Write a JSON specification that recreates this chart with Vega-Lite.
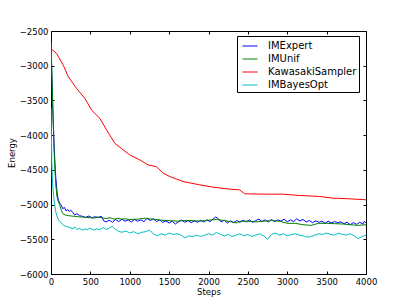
{
  "$schema": "https://vega.github.io/schema/vega-lite/v6.json",
  "width": 315,
  "height": 243,
  "autosize": "none",
  "padding": {"left": 51, "top": 31, "right": 41, "bottom": 31},
  "datasets": {
    "runs": [
      {"series":"IMExpert","step":0,"energy":-2700},{"series":"IMExpert","step":10,"energy":-3100},{"series":"IMExpert","step":20,"energy":-3500},{"series":"IMExpert","step":30,"energy":-3850},{"series":"IMExpert","step":40,"energy":-4150},{"series":"IMExpert","step":50,"energy":-4400},{"series":"IMExpert","step":60,"energy":-4600},{"series":"IMExpert","step":75,"energy":-4800},{"series":"IMExpert","step":90,"energy":-4920},{"series":"IMExpert","step":110,"energy":-4980},{"series":"IMExpert","step":130,"energy":-5010},{"series":"IMExpert","step":150,"energy":-5060},{"series":"IMExpert","step":170,"energy":-5040},{"series":"IMExpert","step":190,"energy":-5090},{"series":"IMExpert","step":210,"energy":-5070},{"series":"IMExpert","step":230,"energy":-5100},{"series":"IMExpert","step":250,"energy":-5080},{"series":"IMExpert","step":280,"energy":-5120},{"series":"IMExpert","step":300,"energy":-5150},{"series":"IMExpert","step":330,"energy":-5130},{"series":"IMExpert","step":360,"energy":-5160},
      {"series":"IMExpert","step":400,"energy":-5170},{"series":"IMExpert","step":440,"energy":-5185},{"series":"IMExpert","step":480,"energy":-5165},{"series":"IMExpert","step":520,"energy":-5190},{"series":"IMExpert","step":560,"energy":-5175},{"series":"IMExpert","step":600,"energy":-5185},{"series":"IMExpert","step":640,"energy":-5170},{"series":"IMExpert","step":670,"energy":-5235},{"series":"IMExpert","step":700,"energy":-5250},{"series":"IMExpert","step":740,"energy":-5225},{"series":"IMExpert","step":780,"energy":-5255},{"series":"IMExpert","step":820,"energy":-5215},{"series":"IMExpert","step":860,"energy":-5245},{"series":"IMExpert","step":900,"energy":-5210},{"series":"IMExpert","step":940,"energy":-5240},{"series":"IMExpert","step":980,"energy":-5220},{"series":"IMExpert","step":1020,"energy":-5250},{"series":"IMExpert","step":1060,"energy":-5215},{"series":"IMExpert","step":1100,"energy":-5240},{"series":"IMExpert","step":1140,"energy":-5220},{"series":"IMExpert","step":1180,"energy":-5245},{"series":"IMExpert","step":1220,"energy":-5200},{"series":"IMExpert","step":1260,"energy":-5230},{"series":"IMExpert","step":1300,"energy":-5205},{"series":"IMExpert","step":1340,"energy":-5245},{"series":"IMExpert","step":1380,"energy":-5220},{"series":"IMExpert","step":1420,"energy":-5255},{"series":"IMExpert","step":1460,"energy":-5235},{"series":"IMExpert","step":1500,"energy":-5265},{"series":"IMExpert","step":1540,"energy":-5240},{"series":"IMExpert","step":1580,"energy":-5280},{"series":"IMExpert","step":1620,"energy":-5245},{"series":"IMExpert","step":1660,"energy":-5225},{"series":"IMExpert","step":1700,"energy":-5255},{"series":"IMExpert","step":1740,"energy":-5230},{"series":"IMExpert","step":1780,"energy":-5260},{"series":"IMExpert","step":1820,"energy":-5235},{"series":"IMExpert","step":1860,"energy":-5255},{"series":"IMExpert","step":1900,"energy":-5225},{"series":"IMExpert","step":1940,"energy":-5250},{"series":"IMExpert","step":1980,"energy":-5220},{"series":"IMExpert","step":2020,"energy":-5245},{"series":"IMExpert","step":2060,"energy":-5205},{"series":"IMExpert","step":2090,"energy":-5180},{"series":"IMExpert","step":2120,"energy":-5200},{"series":"IMExpert","step":2160,"energy":-5250},{"series":"IMExpert","step":2200,"energy":-5225},{"series":"IMExpert","step":2240,"energy":-5265},{"series":"IMExpert","step":2280,"energy":-5235},{"series":"IMExpert","step":2320,"energy":-5260},{"series":"IMExpert","step":2360,"energy":-5230},{"series":"IMExpert","step":2400,"energy":-5255},{"series":"IMExpert","step":2440,"energy":-5225},{"series":"IMExpert","step":2480,"energy":-5250},{"series":"IMExpert","step":2520,"energy":-5220},{"series":"IMExpert","step":2560,"energy":-5255},{"series":"IMExpert","step":2600,"energy":-5230},{"series":"IMExpert","step":2640,"energy":-5210},{"series":"IMExpert","step":2680,"energy":-5245},{"series":"IMExpert","step":2720,"energy":-5220},{"series":"IMExpert","step":2760,"energy":-5250},{"series":"IMExpert","step":2800,"energy":-5215},{"series":"IMExpert","step":2840,"energy":-5245},{"series":"IMExpert","step":2880,"energy":-5220},{"series":"IMExpert","step":2920,"energy":-5240},{"series":"IMExpert","step":2960,"energy":-5210},{"series":"IMExpert","step":3000,"energy":-5250},{"series":"IMExpert","step":3040,"energy":-5220},{"series":"IMExpert","step":3080,"energy":-5245},{"series":"IMExpert","step":3120,"energy":-5205},{"series":"IMExpert","step":3160,"energy":-5235},{"series":"IMExpert","step":3200,"energy":-5215},{"series":"IMExpert","step":3240,"energy":-5250},{"series":"IMExpert","step":3280,"energy":-5230},{"series":"IMExpert","step":3320,"energy":-5260},{"series":"IMExpert","step":3360,"energy":-5235},{"series":"IMExpert","step":3400,"energy":-5255},{"series":"IMExpert","step":3440,"energy":-5240},{"series":"IMExpert","step":3480,"energy":-5270},{"series":"IMExpert","step":3520,"energy":-5240},{"series":"IMExpert","step":3560,"energy":-5265},{"series":"IMExpert","step":3600,"energy":-5245},{"series":"IMExpert","step":3640,"energy":-5260},{"series":"IMExpert","step":3680,"energy":-5250},{"series":"IMExpert","step":3720,"energy":-5275},{"series":"IMExpert","step":3760,"energy":-5255},{"series":"IMExpert","step":3800,"energy":-5290},{"series":"IMExpert","step":3840,"energy":-5260},{"series":"IMExpert","step":3880,"energy":-5285},{"series":"IMExpert","step":3920,"energy":-5255},{"series":"IMExpert","step":3960,"energy":-5280},{"series":"IMExpert","step":3980,"energy":-5240},{"series":"IMExpert","step":4000,"energy":-5265},

      {"series":"IMUnif","step":0,"energy":-2650},{"series":"IMUnif","step":10,"energy":-3050},{"series":"IMUnif","step":20,"energy":-3500},{"series":"IMUnif","step":30,"energy":-3900},{"series":"IMUnif","step":40,"energy":-4250},{"series":"IMUnif","step":50,"energy":-4500},{"series":"IMUnif","step":60,"energy":-4700},{"series":"IMUnif","step":75,"energy":-4880},{"series":"IMUnif","step":90,"energy":-4950},{"series":"IMUnif","step":110,"energy":-5000},{"series":"IMUnif","step":130,"energy":-5080},{"series":"IMUnif","step":150,"energy":-5130},{"series":"IMUnif","step":180,"energy":-5150},{"series":"IMUnif","step":220,"energy":-5160},{"series":"IMUnif","step":260,"energy":-5165},{"series":"IMUnif","step":300,"energy":-5170},{"series":"IMUnif","step":350,"energy":-5175},{"series":"IMUnif","step":400,"energy":-5180},{"series":"IMUnif","step":450,"energy":-5185},{"series":"IMUnif","step":500,"energy":-5190},{"series":"IMUnif","step":550,"energy":-5195},{"series":"IMUnif","step":600,"energy":-5180},{"series":"IMUnif","step":650,"energy":-5190},{"series":"IMUnif","step":700,"energy":-5200},{"series":"IMUnif","step":750,"energy":-5190},{"series":"IMUnif","step":800,"energy":-5210},{"series":"IMUnif","step":850,"energy":-5200},{"series":"IMUnif","step":900,"energy":-5210},{"series":"IMUnif","step":950,"energy":-5205},{"series":"IMUnif","step":1000,"energy":-5215},{"series":"IMUnif","step":1100,"energy":-5210},{"series":"IMUnif","step":1200,"energy":-5195},{"series":"IMUnif","step":1250,"energy":-5205},{"series":"IMUnif","step":1300,"energy":-5210},{"series":"IMUnif","step":1400,"energy":-5225},{"series":"IMUnif","step":1500,"energy":-5230},{"series":"IMUnif","step":1600,"energy":-5240},{"series":"IMUnif","step":1700,"energy":-5230},{"series":"IMUnif","step":1800,"energy":-5230},{"series":"IMUnif","step":1900,"energy":-5240},{"series":"IMUnif","step":2000,"energy":-5225},{"series":"IMUnif","step":2100,"energy":-5215},{"series":"IMUnif","step":2200,"energy":-5230},{"series":"IMUnif","step":2300,"energy":-5250},{"series":"IMUnif","step":2350,"energy":-5265},{"series":"IMUnif","step":2400,"energy":-5240},{"series":"IMUnif","step":2500,"energy":-5240},{"series":"IMUnif","step":2600,"energy":-5250},{"series":"IMUnif","step":2700,"energy":-5240},{"series":"IMUnif","step":2800,"energy":-5230},{"series":"IMUnif","step":2900,"energy":-5240},{"series":"IMUnif","step":3000,"energy":-5270},{"series":"IMUnif","step":3100,"energy":-5270},{"series":"IMUnif","step":3200,"energy":-5290},{"series":"IMUnif","step":3300,"energy":-5300},{"series":"IMUnif","step":3350,"energy":-5285},{"series":"IMUnif","step":3400,"energy":-5270},{"series":"IMUnif","step":3500,"energy":-5270},{"series":"IMUnif","step":3600,"energy":-5275},{"series":"IMUnif","step":3700,"energy":-5280},{"series":"IMUnif","step":3800,"energy":-5290},{"series":"IMUnif","step":3900,"energy":-5300},{"series":"IMUnif","step":4000,"energy":-5290},

      {"series":"KawasakiSampler","step":0,"energy":-2754},{"series":"KawasakiSampler","step":72,"energy":-2825},{"series":"KawasakiSampler","step":156,"energy":-2993},{"series":"KawasakiSampler","step":220,"energy":-3160},{"series":"KawasakiSampler","step":325,"energy":-3328},{"series":"KawasakiSampler","step":431,"energy":-3472},{"series":"KawasakiSampler","step":515,"energy":-3639},{"series":"KawasakiSampler","step":621,"energy":-3759},{"series":"KawasakiSampler","step":706,"energy":-3926},{"series":"KawasakiSampler","step":811,"energy":-4118},{"series":"KawasakiSampler","step":917,"energy":-4213},{"series":"KawasakiSampler","step":1001,"energy":-4285},{"series":"KawasakiSampler","step":1128,"energy":-4357},{"series":"KawasakiSampler","step":1234,"energy":-4429},{"series":"KawasakiSampler","step":1339,"energy":-4453},{"series":"KawasakiSampler","step":1424,"energy":-4548},{"series":"KawasakiSampler","step":1508,"energy":-4596},{"series":"KawasakiSampler","step":1677,"energy":-4668},{"series":"KawasakiSampler","step":1888,"energy":-4716},{"series":"KawasakiSampler","step":2057,"energy":-4749},{"series":"KawasakiSampler","step":2268,"energy":-4778},{"series":"KawasakiSampler","step":2395,"energy":-4788},{"series":"KawasakiSampler","step":2459,"energy":-4845},{"series":"KawasakiSampler","step":2733,"energy":-4850},{"series":"KawasakiSampler","step":2944,"energy":-4850},{"series":"KawasakiSampler","step":3155,"energy":-4869},{"series":"KawasakiSampler","step":3409,"energy":-4883},{"series":"KawasakiSampler","step":3578,"energy":-4907},{"series":"KawasakiSampler","step":3789,"energy":-4917},{"series":"KawasakiSampler","step":4000,"energy":-4931},

      {"series":"IMBayesOpt","step":0,"energy":-3600},{"series":"IMBayesOpt","step":10,"energy":-4400},{"series":"IMBayesOpt","step":20,"energy":-4700},{"series":"IMBayesOpt","step":40,"energy":-4950},{"series":"IMBayesOpt","step":60,"energy":-5100},{"series":"IMBayesOpt","step":80,"energy":-5180},{"series":"IMBayesOpt","step":100,"energy":-5230},{"series":"IMBayesOpt","step":130,"energy":-5260},{"series":"IMBayesOpt","step":160,"energy":-5300},{"series":"IMBayesOpt","step":200,"energy":-5320},{"series":"IMBayesOpt","step":240,"energy":-5330},{"series":"IMBayesOpt","step":280,"energy":-5350},{"series":"IMBayesOpt","step":300,"energy":-5320},{"series":"IMBayesOpt","step":330,"energy":-5360},{"series":"IMBayesOpt","step":360,"energy":-5340},{"series":"IMBayesOpt","step":400,"energy":-5370},{"series":"IMBayesOpt","step":430,"energy":-5350},{"series":"IMBayesOpt","step":460,"energy":-5360},{"series":"IMBayesOpt","step":500,"energy":-5340},{"series":"IMBayesOpt","step":540,"energy":-5370},{"series":"IMBayesOpt","step":580,"energy":-5350},{"series":"IMBayesOpt","step":620,"energy":-5360},{"series":"IMBayesOpt","step":660,"energy":-5330},{"series":"IMBayesOpt","step":700,"energy":-5360},{"series":"IMBayesOpt","step":740,"energy":-5340},{"series":"IMBayesOpt","step":780,"energy":-5310},{"series":"IMBayesOpt","step":810,"energy":-5350},{"series":"IMBayesOpt","step":850,"energy":-5380},{"series":"IMBayesOpt","step":900,"energy":-5400},{"series":"IMBayesOpt","step":950,"energy":-5380},{"series":"IMBayesOpt","step":1000,"energy":-5410},{"series":"IMBayesOpt","step":1050,"energy":-5390},{"series":"IMBayesOpt","step":1100,"energy":-5420},{"series":"IMBayesOpt","step":1150,"energy":-5400},{"series":"IMBayesOpt","step":1200,"energy":-5390},{"series":"IMBayesOpt","step":1250,"energy":-5370},{"series":"IMBayesOpt","step":1300,"energy":-5420},{"series":"IMBayesOpt","step":1350,"energy":-5450},{"series":"IMBayesOpt","step":1400,"energy":-5420},{"series":"IMBayesOpt","step":1450,"energy":-5440},{"series":"IMBayesOpt","step":1500,"energy":-5410},{"series":"IMBayesOpt","step":1550,"energy":-5430},{"series":"IMBayesOpt","step":1600,"energy":-5420},{"series":"IMBayesOpt","step":1650,"energy":-5440},{"series":"IMBayesOpt","step":1700,"energy":-5480},{"series":"IMBayesOpt","step":1750,"energy":-5450},{"series":"IMBayesOpt","step":1800,"energy":-5460},{"series":"IMBayesOpt","step":1850,"energy":-5440},{"series":"IMBayesOpt","step":1900,"energy":-5460},{"series":"IMBayesOpt","step":1950,"energy":-5440},{"series":"IMBayesOpt","step":2000,"energy":-5420},{"series":"IMBayesOpt","step":2050,"energy":-5440},{"series":"IMBayesOpt","step":2100,"energy":-5400},{"series":"IMBayesOpt","step":2150,"energy":-5430},{"series":"IMBayesOpt","step":2200,"energy":-5450},{"series":"IMBayesOpt","step":2250,"energy":-5430},{"series":"IMBayesOpt","step":2300,"energy":-5460},{"series":"IMBayesOpt","step":2350,"energy":-5440},{"series":"IMBayesOpt","step":2400,"energy":-5420},{"series":"IMBayesOpt","step":2450,"energy":-5450},{"series":"IMBayesOpt","step":2500,"energy":-5430},{"series":"IMBayesOpt","step":2550,"energy":-5460},{"series":"IMBayesOpt","step":2600,"energy":-5440},{"series":"IMBayesOpt","step":2650,"energy":-5420},{"series":"IMBayesOpt","step":2700,"energy":-5450},{"series":"IMBayesOpt","step":2750,"energy":-5500},{"series":"IMBayesOpt","step":2800,"energy":-5430},{"series":"IMBayesOpt","step":2850,"energy":-5410},{"series":"IMBayesOpt","step":2900,"energy":-5440},{"series":"IMBayesOpt","step":2950,"energy":-5420},{"series":"IMBayesOpt","step":3000,"energy":-5450},{"series":"IMBayesOpt","step":3050,"energy":-5430},{"series":"IMBayesOpt","step":3100,"energy":-5420},{"series":"IMBayesOpt","step":3150,"energy":-5440},{"series":"IMBayesOpt","step":3200,"energy":-5450},{"series":"IMBayesOpt","step":3250,"energy":-5470},{"series":"IMBayesOpt","step":3300,"energy":-5460},{"series":"IMBayesOpt","step":3350,"energy":-5440},{"series":"IMBayesOpt","step":3400,"energy":-5420},{"series":"IMBayesOpt","step":3450,"energy":-5430},{"series":"IMBayesOpt","step":3500,"energy":-5410},{"series":"IMBayesOpt","step":3550,"energy":-5430},{"series":"IMBayesOpt","step":3600,"energy":-5440},{"series":"IMBayesOpt","step":3650,"energy":-5410},{"series":"IMBayesOpt","step":3700,"energy":-5430},{"series":"IMBayesOpt","step":3750,"energy":-5440},{"series":"IMBayesOpt","step":3800,"energy":-5420},{"series":"IMBayesOpt","step":3850,"energy":-5450},{"series":"IMBayesOpt","step":3900,"energy":-5490},{"series":"IMBayesOpt","step":3950,"energy":-5460},{"series":"IMBayesOpt","step":4000,"energy":-5440}
    ]
  },
  "data": {"name": "runs"},
  "layer": [
    {
      "mark": {"type": "line", "strokeWidth": 1, "clip": true},
      "encoding": {
        "x": {"field": "step", "type": "quantitative", "scale": {"domain": [0, 4000], "nice": false, "zero": false},
              "axis": {"title": "Steps", "values": [0,500,1000,1500,2000,2500,3000,3500,4000], "format": "d", "titlePadding": 2, "labelFlush": false}},
        "y": {"field": "energy", "type": "quantitative", "scale": {"domain": [-6000, -2500], "nice": false, "zero": false},
              "axis": {"title": "Energy", "values": [-6000,-5500,-5000,-4500,-4000,-3500,-3000,-2500], "format": "d", "titlePadding": 3, "labelFlush": false,
                       "labelExpr": "replace(datum.label, '-', '−')"}},
        "color": {"field": "series", "type": "nominal",
                  "scale": {"domain": ["IMExpert","IMUnif","KawasakiSampler","IMBayesOpt"], "range": ["#0000ff","#008000","#ff0000","#00bfbf"]},
                  "legend": {"title": null, "orient": "none", "legendX": 186, "legendY": 5}}
      }
    },
    {
      "mark": {"type": "line", "strokeOpacity": 0},
      "encoding": {
        "x": {"field": "step", "type": "quantitative", "axis": {"orient": "top", "labels": false, "title": null, "values": [0,500,1000,1500,2000,2500,3000,3500,4000]}},
        "y": {"field": "energy", "type": "quantitative", "axis": {"orient": "right", "labels": false, "title": null, "values": [-6000,-5500,-5000,-4500,-4000,-3500,-3000,-2500]}}
      }
    }
  ],
  "resolve": {"axis": {"x": "independent", "y": "independent"}},
  "config": {
    "font": "DejaVu Sans",
    "view": {"stroke": "#000000", "strokeWidth": 1},
    "axis": {"grid": false, "domain": false, "labelFont": "DejaVu Sans", "labelFontSize": 8.5, "labelColor": "#000000",
             "tickColor": "#000000", "tickSize": -3, "labelPadding": 6, "titleFont": "DejaVu Sans", "titleFontSize": 8.5,
             "titleFontWeight": "normal", "titleColor": "#000000"},
    "legend": {"strokeColor": "#000000", "fillColor": "#ffffff", "padding": 2, "symbolType": "stroke", "symbolSize": 225,
               "symbolStrokeWidth": 1, "symbolOffset": 3, "labelFont": "DejaVu Sans", "labelFontSize": 10, "labelColor": "#000000",
               "labelOffset": 10, "rowPadding": 0, "cornerRadius": 0}
  }
}
